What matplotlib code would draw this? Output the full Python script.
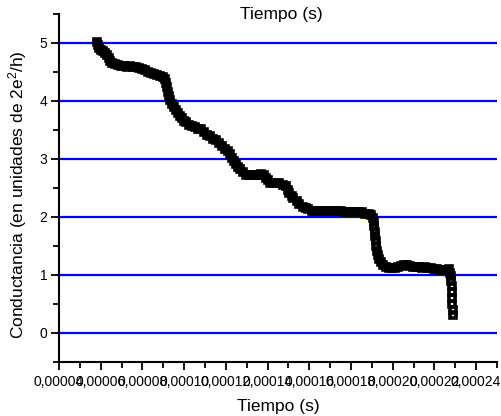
import numpy as np
import matplotlib
matplotlib.use("Agg")
import matplotlib.pyplot as plt
from matplotlib.ticker import MultipleLocator, FuncFormatter

plt.rcParams['font.family'] = ['Liberation Sans', 'DejaVu Sans']
plt.rcParams['mathtext.fontset'] = 'custom'
plt.rcParams['mathtext.rm'] = 'Liberation Sans'
plt.rcParams['mathtext.it'] = 'Liberation Sans:italic'

# time in microseconds, conductance in units of 2e^2/h
tiempo_us = [58.2, 58.7, 59.1, 60.1, 61.1, 62.0, 63.0, 63.9, 64.4, 65.4, 66.8, 68.2,
             69.7, 71.1, 72.5, 74.0, 75.4, 76.8, 78.3, 79.7, 81.2, 82.6, 84.0, 85.5,
             86.9, 88.3, 89.8, 90.7, 91.2, 91.7, 92.2, 92.6, 93.1, 94.1, 95.0, 96.0,
             96.9, 97.9, 98.9, 99.8, 100.8, 102.2, 103.6, 105.1, 106.5, 107.9, 109.4,
             110.8, 112.3, 113.7, 115.1, 116.6, 118.0, 119.4, 120.9, 121.8, 122.8,
             123.7, 124.7, 125.6, 126.6, 128.0, 129.5, 130.9, 132.4, 133.8, 135.2,
             136.7, 138.1, 139.1, 140.0, 141.4, 142.9, 144.3, 145.7, 147.2, 148.6,
             149.6, 150.5, 151.5, 152.4, 153.9, 155.3, 156.8, 158.2, 159.6, 161.1,
             162.5, 163.9, 165.4, 166.8, 168.2, 169.7, 171.1, 172.5, 174.0, 175.4,
             176.9, 178.3, 179.7, 181.2, 182.6, 184.0, 185.5, 186.9, 188.4, 189.8,
             190.7, 191.2, 191.2, 191.7, 191.7, 192.2, 192.2, 192.6, 193.1, 193.6,
             194.5, 195.5, 196.9, 198.4, 199.8, 201.3, 202.7, 204.2, 205.6, 207.0,
             208.5, 209.9, 211.3, 212.8, 214.2, 215.7, 217.1, 218.5, 220.0, 221.4,
             222.9, 224.3, 225.7, 227.1, 227.6, 228.1, 228.1, 228.6, 228.6, 228.6,
             228.6, 229.0, 229.0]
conductancia = [5.02, 4.97, 4.91, 4.88, 4.86, 4.83, 4.79, 4.74, 4.69, 4.66, 4.64, 4.62,
                4.60, 4.60, 4.59, 4.60, 4.59, 4.59, 4.57, 4.55, 4.54, 4.50, 4.48, 4.47,
                4.45, 4.43, 4.42, 4.38, 4.31, 4.24, 4.16, 4.09, 4.02, 3.95, 3.90, 3.85,
                3.80, 3.75, 3.71, 3.66, 3.63, 3.59, 3.57, 3.56, 3.52, 3.51, 3.47,
                3.42, 3.39, 3.35, 3.32, 3.28, 3.23, 3.18, 3.13, 3.08, 3.02,
                2.97, 2.92, 2.87, 2.82, 2.77, 2.73, 2.72, 2.72, 2.73, 2.72,
                2.75, 2.73, 2.68, 2.63, 2.59, 2.58, 2.58, 2.58, 2.56, 2.53,
                2.47, 2.42, 2.37, 2.32, 2.27, 2.22, 2.18, 2.15, 2.13, 2.11,
                2.10, 2.10, 2.11, 2.10, 2.10, 2.11, 2.10, 2.10, 2.10, 2.10,
                2.08, 2.08, 2.08, 2.08, 2.08, 2.08, 2.08, 2.06, 2.06, 2.04,
                1.99, 1.92, 1.84, 1.75, 1.67, 1.58, 1.50, 1.41, 1.34, 1.27,
                1.22, 1.17, 1.13, 1.12, 1.12, 1.12, 1.13, 1.15, 1.17, 1.17,
                1.15, 1.13, 1.13, 1.13, 1.12, 1.13, 1.12, 1.12, 1.10, 1.10,
                1.08, 1.08, 1.08, 1.10, 1.03, 0.98, 0.89, 0.81, 0.70, 0.60,
                0.50, 0.40, 0.31]
niveles = [0, 1, 2, 3, 4, 5]

t = np.array(tiempo_us) * 1e-6

fig = plt.figure(figsize=(5.01, 4.16), dpi=100)
ax = fig.add_axes([59/501, 54/416, 438/501, 348/416])

for n in niveles:
    ax.axhline(n, color='#0000ff', lw=1.6, zorder=1)

# hollow squares with a heavy edge, like the original scatter
ax.plot(t, conductancia, ls='none', marker='s', ms=4.0, mfc='none',
        mec='black', mew=2.6, zorder=3)

ax.set_xlim(0.00004, 0.00025)
ax.set_ylim(-0.5, 5.5)

ax.xaxis.set_major_locator(MultipleLocator(0.00002))
ax.xaxis.set_minor_locator(MultipleLocator(0.00001))
ax.yaxis.set_major_locator(MultipleLocator(1))
ax.yaxis.set_minor_locator(MultipleLocator(0.5))
ax.xaxis.set_major_formatter(FuncFormatter(lambda v, p: f"{v:.5f}".replace('.', ',')))

ax.spines['top'].set_visible(False)
ax.spines['right'].set_visible(False)
ax.spines['left'].set_linewidth(1.5)
ax.spines['bottom'].set_linewidth(1.5)
ax.tick_params(which='major', length=5.5, width=1.3, labelsize=10, pad=3)
ax.tick_params(which='minor', length=4, width=1.3)
ax.tick_params(axis='x', which='major', pad=4)

ax.set_xlabel('Tiempo (s)', fontsize=12.5)
ax.xaxis.set_label_coords(0.5, -0.105)
ax.set_ylabel('Conductancia (en unidades de 2e$^2$/h)', fontsize=12.5)
ax.yaxis.set_label_coords(-0.068, 0.48)

fig.text(281/501, 1 - 14.5/416, 'Tiempo (s)', fontsize=12.5, ha='center', va='center')

fig.savefig('out.png', dpi=100)
